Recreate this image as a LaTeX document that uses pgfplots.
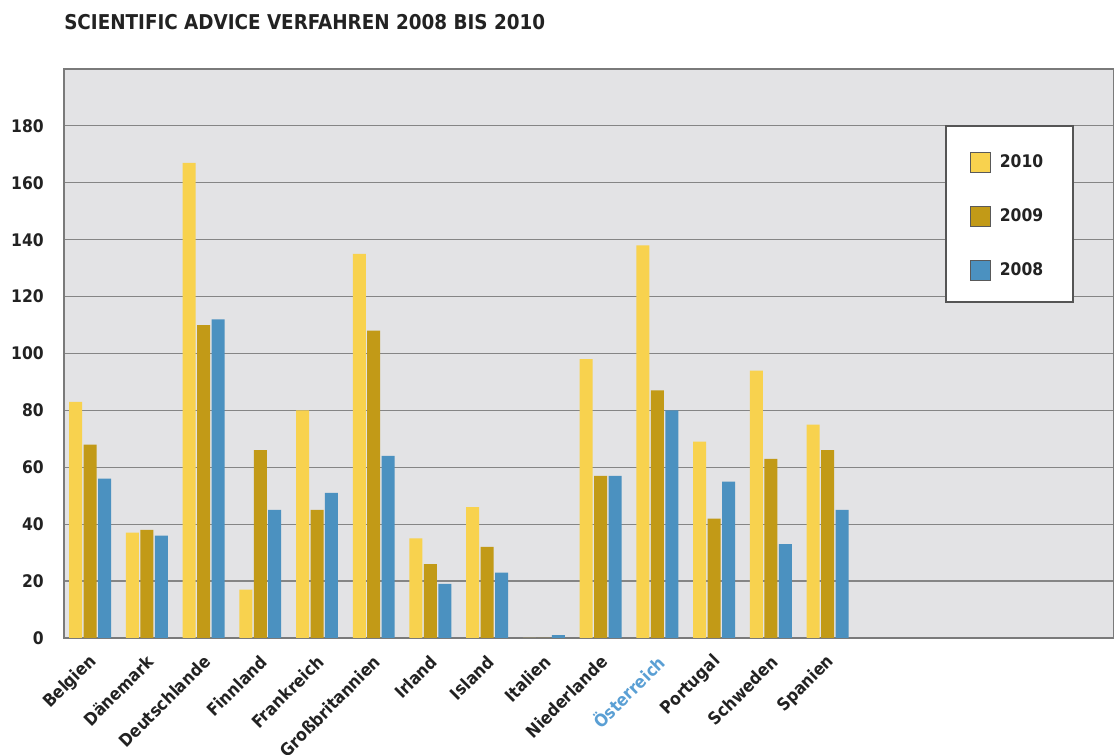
\documentclass[border=0pt]{standalone}
\usepackage{pgfplots}
\pgfplotsset{compat=1.18}
\usepackage{fontspec}
\setmainfont{DejaVu Sans Condensed}
\definecolor{cyel}{HTML}{F8D24E}
\definecolor{cbrn}{HTML}{C29A17}
\definecolor{cblu}{HTML}{4B91C0}
\definecolor{cbg}{HTML}{E3E3E5}
\definecolor{cgrid}{HTML}{858585}
\definecolor{cframe}{HTML}{7A7A7A}
\definecolor{ctext}{HTML}{222222}
\definecolor{caus}{HTML}{5A9FD4}
\definecolor{clegend}{HTML}{555555}
\newcommand{\lent}[1]{\makebox[35pt][l]{\raisebox{-8.2pt}[0pt][0pt]{#1}}}
\begin{document}
\begin{tikzpicture}
\useasboundingbox (-48pt,-87.75pt) rectangle (787.5pt,478.5pt);
\begin{axis}[
  at={(0,0)}, anchor=south west,
  scale only axis, width=787.5pt, height=426.75pt,
  xmin=-0.46, xmax=18.05, ymin=0, ymax=200,
  ybar=1.1pt, bar width=9.75pt,
  axis background/.style={fill=cbg},
  axis line style={draw=cframe, line width=1pt},
  ymajorgrids, grid style={draw=cgrid, line width=0.9pt},
  ytick={0,20,...,180},
  xtick={0,...,13},
  xticklabels={Belgien, Dänemark, Deutschlande, Finnland, Frankreich, Großbritannien, Irland, Island, Italien, Niederlande, \textcolor{caus}{Österreich}, Portugal, Schweden, Spanien},
  major tick length=0pt,
  /pgf/number format/assume math mode=true,
  tick label style={font=\bfseries\fontsize{13}{15}\selectfont, text=ctext},
  yticklabel style={inner sep=0pt, xshift=-15pt},
  xticklabel style={anchor=east, inner sep=0pt, xshift=2.8pt, yshift=-15.5pt, rotate=45},
  title={SCIENTIFIC ADVICE VERFAHREN 2008 BIS 2010},
  title style={at={(0,1)}, anchor=west, yshift=29.5pt, inner sep=0pt, font=\bfseries\fontsize{15.3}{18}\selectfont, text=ctext},
  legend style={at={(0.839,0.9016)}, anchor=north west, draw=clegend, line width=1.2pt, fill=white,
    inner xsep=18pt, inner ysep=16.1pt, row sep=21.75pt, column sep=5pt,
    font=\bfseries\fontsize{13}{15}\selectfont, text=ctext},
  legend cell align=left,
  legend image code/.code={\path[draw=none, fill=none] (0pt,-7.5pt) rectangle (15pt,7.5pt);
    \draw[#1, draw=black!65, line width=0.6pt] (0pt,-11pt) rectangle (15pt,4pt);},
]
\addplot[fill=cyel, draw=none] coordinates {
(0,83) (1,37) (2,167) (3,17) (4,80) (5,135) (6,35) (7,46) (8,0) (9,98) (10,138) (11,69) (12,94) (13,75)};
\addplot[fill=cbrn, draw=none] coordinates {
(0,68) (1,38) (2,110) (3,66) (4,45) (5,108) (6,26) (7,32) (8,0) (9,57) (10,87) (11,42) (12,63) (13,66)};
\addplot[fill=cblu, draw=none] coordinates {
(0,56) (1,36) (2,112) (3,45) (4,51) (5,64) (6,19) (7,23) (8,1) (9,57) (10,80) (11,55) (12,33) (13,45)};
\legend{\lent{2010},\lent{2009},\lent{2008}}
\end{axis}
\end{tikzpicture}
\end{document}
